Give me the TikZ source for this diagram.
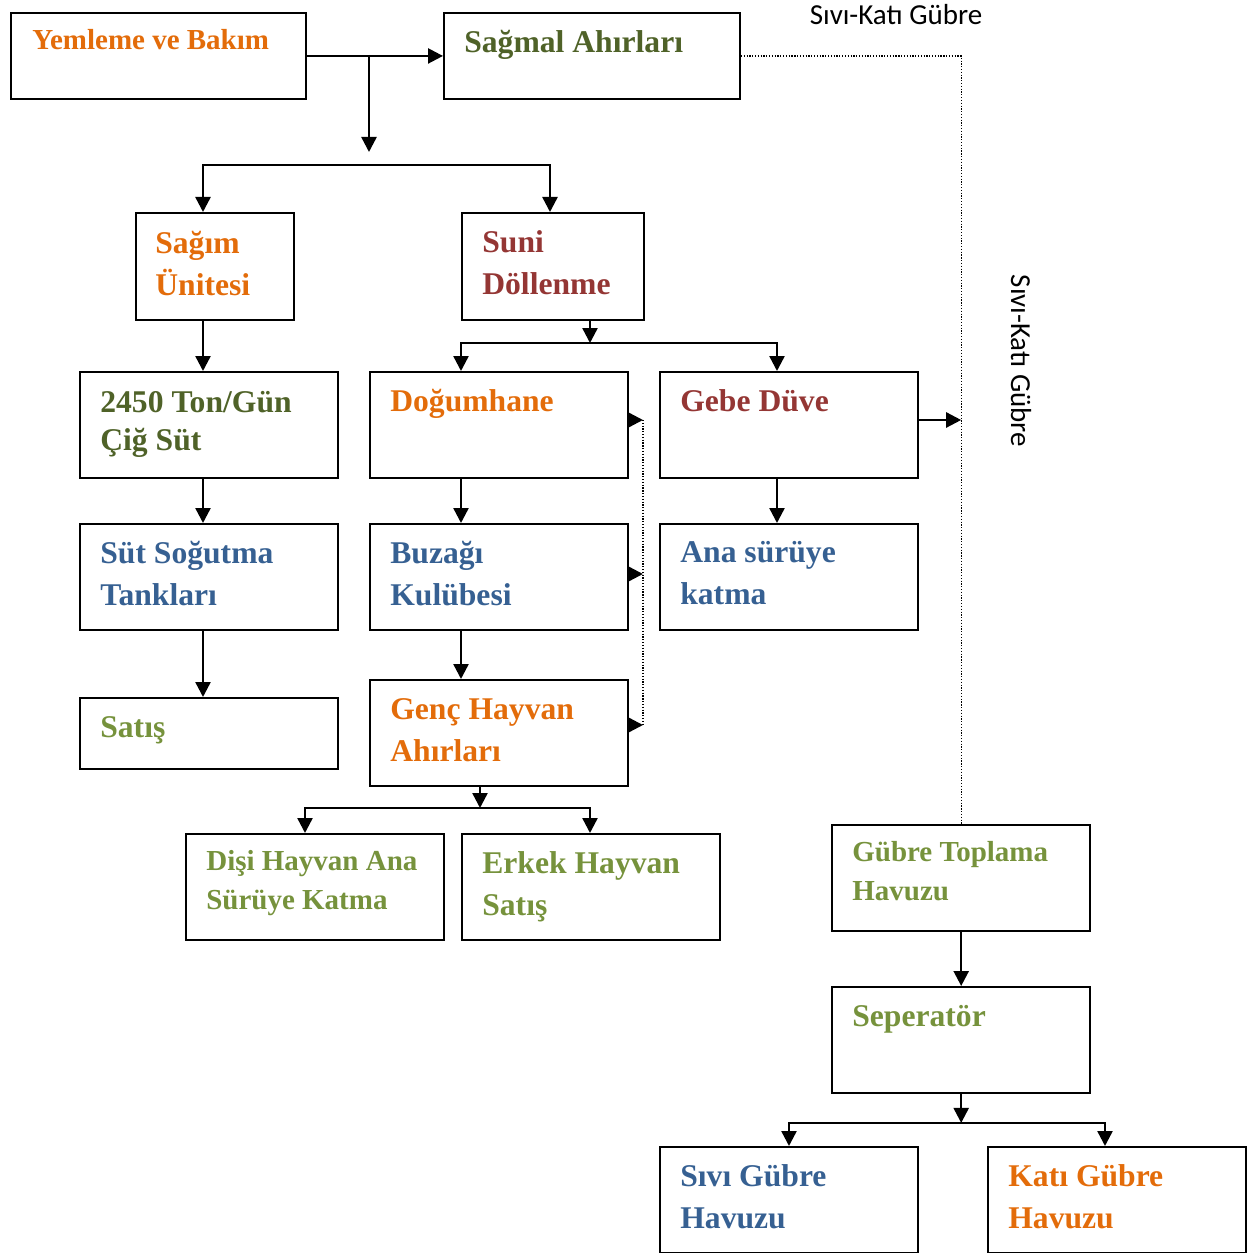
\documentclass[tikz,border=0pt]{standalone}
\usepackage{fontspec}
\setmainfont{Liberation Serif}
\newfontfamily\notefont{Carlito}
\usetikzlibrary{arrows.meta,positioning,calc}
\definecolor{turuncu}{HTML}{E36C0A}
\definecolor{zeytin}{HTML}{4F6228}
\definecolor{kiremit}{HTML}{943634}
\definecolor{mavi}{HTML}{366092}
\definecolor{yesil}{HTML}{76923C}
\tikzset{
    box/.style={draw,line width=1.1pt,anchor=north west,inner sep=0pt,minimum width=5.17cm,minimum height=2.12cm},
    txt/.style={inner sep=0pt,align=left,font=\bfseries\fontsize{18}{24}\selectfont,execute at begin node={\rule{0pt}{17pt}}},
    smalltxt/.style={txt,font=\bfseries\fontsize{16.5}{22}\selectfont},
    pre/.style={-{Triangle[length=3mm,width=3mm]},line width=1.4pt},
    dot/.style={line width=0.7pt,dash pattern=on 0.7pt off 0.9pt},
    note/.style={font=\notefont\fontsize{16.5}{20}\selectfont}
}

\begin{document}
\begin{tikzpicture}[x=0.02cm,y=-0.02cm]

    \useasboundingbox (0,0) rectangle (1255,1253);

    \node[box,minimum width=5.9cm,minimum height=1.72cm]  (yemleme)   at (10,12)   {};
    \node[box,minimum width=5.92cm,minimum height=1.72cm] (sagmal)    at (443,12)  {};
    \node[box,minimum width=3.16cm,minimum height=2.14cm] (sagim)     at (135,212) {};
    \node[box,minimum width=3.64cm,minimum height=2.14cm] (suni)      at (461,212) {};
    \node[box] (cig)       at (79,371)   {};
    \node[box] (dogum)     at (369,371)  {};
    \node[box] (gebe)      at (659,371)  {};
    \node[box] (sogutma)   at (79,523)   {};
    \node[box] (buzagi)    at (369,523)  {};
    \node[box] (ana)       at (659,523)  {};
    \node[box,minimum height=1.42cm] (satis) at (79,697) {};
    \node[box] (genc)      at (369,679)  {};
    \node[box] (disi)      at (185,833)  {};
    \node[box] (erkek)     at (461,833)  {};
    \node[box] (toplama)   at (831,824)  {};
    \node[box] (seperator) at (831,986)  {};
    \node[box] (sivi)      at (659,1146) {};
    \node[box] (kati)      at (987,1146) {};

    \node[smalltxt,text=turuncu] (yemleme t)   [below right=0.14cm and 0.44cm of yemleme.north west]   {Yemleme ve Bakım};
    \node[txt,text=zeytin]       (sagmal t)    [below right=0.2cm and 0.42cm of sagmal.north west]     {Sağmal Ahırları};
    \node[txt,text=turuncu]      (sagim t)     [below right=0.37cm and 0.4cm of sagim.north west]      {Sağım\\Ünitesi};
    \node[txt,text=kiremit]      (suni t)      [below right=0.37cm and 0.42cm of suni.north west]      {Suni\\Döllenme};
    \node[txt,text=zeytin,font=\bfseries\fontsize{18}{22}\selectfont] (cig t) [below right=0.39cm and 0.42cm of cig.north west] {2450 Ton/Gün\\Çiğ Süt};
    \node[txt,text=turuncu]      (dogum t)     [below right=0.2cm and 0.42cm of dogum.north west]     {Doğumhane};
    \node[txt,text=kiremit]      (gebe t)      [below right=0.2cm and 0.42cm of gebe.north west]      {Gebe Düve};
    \node[txt,text=mavi]         (sogutma t)   [below right=0.36cm and 0.42cm of sogutma.north west]  {Süt Soğutma\\Tankları};
    \node[txt,text=mavi]         (buzagi t)    [below right=0.36cm and 0.42cm of buzagi.north west]   {Buzağı\\Kulübesi};
    \node[txt,text=mavi]         (ana t)       [below right=0.36cm and 0.42cm of ana.north west]      {Ana sürüye\\katma};
    \node[txt,text=yesil]        (satis t)     [below right=0.2cm and 0.42cm of satis.north west]     {Satış};
    \node[txt,text=turuncu]      (genc t)      [below right=0.38cm and 0.42cm of genc.north west]     {Genç Hayvan\\Ahırları};
    \node[smalltxt,text=yesil]   (disi t)      [below right=0.34cm and 0.42cm of disi.north west]     {Dişi Hayvan Ana\\Sürüye Katma};
    \node[txt,text=yesil]        (erkek t)     [below right=0.36cm and 0.42cm of erkek.north west]    {Erkek Hayvan\\Satış};
    \node[smalltxt,text=yesil]   (toplama t)   [below right=0.34cm and 0.42cm of toplama.north west]  {Gübre Toplama\\Havuzu};
    \node[txt,text=yesil]        (seperator t) [below right=0.2cm and 0.42cm of seperator.north west] {Seperatör};
    \node[txt,text=mavi]         (sivi t)      [below right=0.36cm and 0.42cm of sivi.north west]     {Sıvı Gübre\\Havuzu};
    \node[txt,text=turuncu]      (kati t)      [below right=0.36cm and 0.42cm of kati.north west]     {Katı Gübre\\Havuzu};

    \node[note] (ust not) at (896,15) {Sıvı-Katı Gübre};
    \node[note,rotate=-90] (yan not) at (1021,361) {Sıvı-Katı Gübre};

    \coordinate (split1) at (369,55);
    \coordinate (drop1)  at (369,152);
    \coordinate (fork1)  at (369,165);
    \coordinate (fork2)  at (590,343);
    \coordinate (fork3)  at (480,808);
    \coordinate (fork4)  at ($(seperator.south)+(0,29)$);
    \coordinate (rail top)    at (643,420);
    \coordinate (rail bottom) at (643,725);
    \coordinate (dogum out)  at ($(dogum.north east)+(0,49)$);
    \coordinate (buzagi out) at ($(buzagi.north east)+(0,51)$);
    \coordinate (genc out)   at ($(genc.north east)+(0,46)$);
    \coordinate (gebe out)   at ($(gebe.north east)+(0,49)$);

    \draw[pre] (yemleme.east) -- (sagmal.west);
    \draw[pre] (split1) -- (drop1);
    \draw[pre] (fork1) -| ($(sagim.north west)+(68,0)$);
    \draw[pre] (fork1) -| ($(suni.north west)+(89,0)$);

    \draw[pre] ($(sagim.south west)+(68,0)$) -- ($(cig.north west)+(124,0)$);
    \draw[pre] ($(cig.south west)+(124,0)$) -- ($(sogutma.north west)+(124,0)$);
    \draw[pre] ($(sogutma.south west)+(124,0)$) -- ($(satis.north west)+(124,0)$);

    \draw[pre] ($(suni.south west)+(129,0)$) -- (fork2);
    \draw[pre] (fork2) -| ($(dogum.north west)+(92,0)$);
    \draw[pre] (fork2) -| ($(gebe.north west)+(118,0)$);
    \draw[pre] ($(dogum.south west)+(92,0)$) -- ($(buzagi.north west)+(92,0)$);
    \draw[pre] ($(buzagi.south west)+(92,0)$) -- ($(genc.north west)+(92,0)$);
    \draw[pre] ($(gebe.south west)+(118,0)$) -- ($(ana.north west)+(118,0)$);

    \draw[pre] ($(genc.south west)+(111,0)$) -- (fork3);
    \draw[pre] (fork3) -| ($(disi.north west)+(120,0)$);
    \draw[pre] (fork3) -| ($(erkek.north west)+(129,0)$);

    \draw[dot] (rail top) -- (rail bottom);
    \draw[pre] (dogum out) -- (dogum out -| rail top);
    \draw[pre] (buzagi out) -- (buzagi out -| rail top);
    \draw[pre] (genc out) -- (genc out -| rail top);

    \draw[dot] (sagmal.east) -| (toplama.north);
    \draw[pre] (gebe out) -- (gebe out -| toplama.north);

    \draw[pre] (toplama.south) -- (seperator.north);
    \draw[pre] (seperator.south) -- (fork4);
    \draw[pre] (fork4) -| ($(sivi.north west)+(130,0)$);
    \draw[pre] (fork4) -| ($(kati.north west)+(118,0)$);

\end{tikzpicture}
\end{document}
